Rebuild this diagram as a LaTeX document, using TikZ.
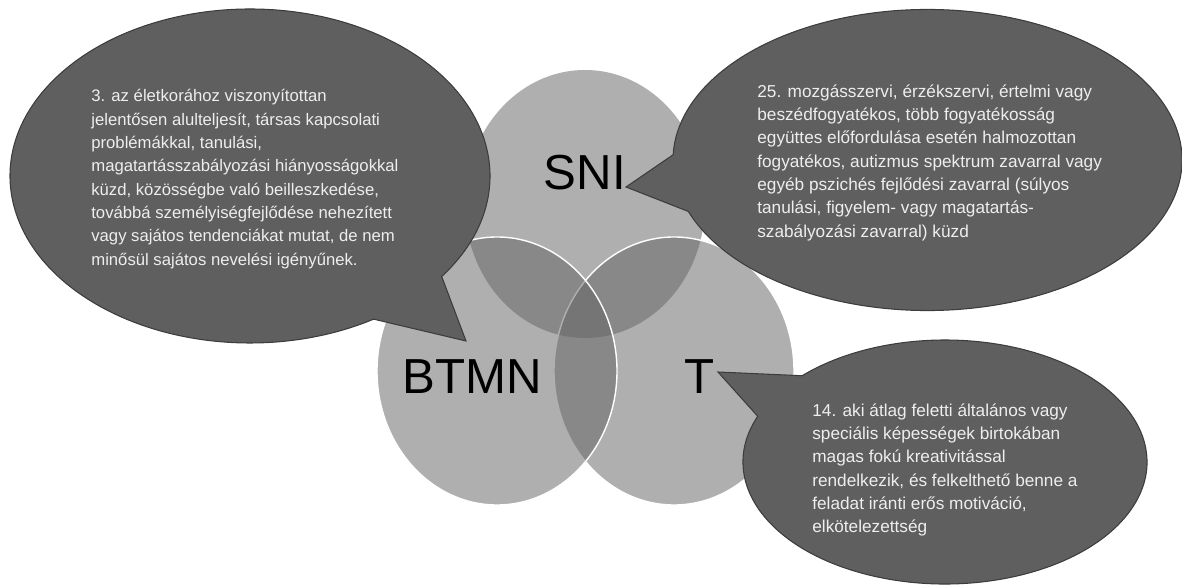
\documentclass[tikz,border=0pt]{standalone}
\usepackage{fontspec}
\setmainfont{Liberation Sans}
\usetikzlibrary{calc}

\definecolor{vennfill}{HTML}{636363}
\definecolor{bubblefill}{HTML}{5F5F5F}
\definecolor{bubbleline}{HTML}{3C3C3C}
\definecolor{bubbletxt}{HTML}{EEEEEE}

\tikzset{
  venn/.style={fill=vennfill, fill opacity=0.51},
  bubble/.style={fill=bubblefill, draw=bubbleline, line width=0.6pt},
  bubbletext/.style={anchor=north west, inner sep=0pt, align=left, text=bubbletxt,
    font=\fontsize{9.8}{13.3}\selectfont},
  setname/.style={inner sep=0pt, font=\fontsize{28}{30}\selectfont}
}

\begin{document}
\begin{tikzpicture}
        \useasboundingbox (0, 0) rectangle (23.64, 11.72);

        % the three sets
        \coordinate (sni) at (11.70, 7.64);
        \coordinate (btmn) at (9.94, 4.30);
        \coordinate (t) at (13.48, 4.30);
        \fill[venn] (sni) ellipse [x radius=2.40, y radius=2.68];
        \filldraw[venn, draw=white, line width=0.8pt] (t) ellipse [x radius=2.40, y radius=2.68];
        \filldraw[venn, draw=white, line width=0.8pt] (btmn) ellipse [x radius=2.40, y radius=2.68];

        \node[setname] (snilabel) at (11.70, 8.26) {SNI};
        \node[setname] (btmnlabel) at (9.44, 4.18) {BTMN};
        \node[setname] (tlabel) at (14.00, 4.18) {T};

        % callouts
        \coordinate (leftc) at (5.00, 8.20);
        \coordinate (lefttip) at (9.32, 4.90);
        \filldraw[bubble] (leftc) ++(-37:4.80 and 3.34)
            arc [start angle=-37, end angle=301, x radius=4.80, y radius=3.34] -- (lefttip) -- cycle;

        \coordinate (rightc) at (18.55, 8.52);
        \coordinate (righttip) at (12.52, 7.98);
        \filldraw[bubble] (rightc) ++(200:5.09 and 3.01)
            arc [start angle=200, end angle=538, x radius=5.09, y radius=3.01] -- (righttip) -- cycle;

        \coordinate (lowc) at (18.90, 2.48);
        \coordinate (lowtip) at (14.36, 4.28);
        \filldraw[bubble] (lowc) ++(158:4.04 and 2.44)
            arc [start angle=158, end angle=495, x radius=4.04, y radius=2.44] -- (lowtip) -- cycle;

        \node[bubbletext, font=\fontsize{9.5}{13.3}\selectfont] (btmntext) at (1.82, 9.94) {3. az életkorához viszonyítottan\\
            jelentősen alulteljesít, társas kapcsolati\\
            problémákkal, tanulási,\\
            magatartásszabályozási hiányosságokkal\\
            küzd, közösségbe való beilleszkedése,\\
            továbbá személyiségfejlődése nehezített\\
            vagy sajátos tendenciákat mutat, de nem\\
            minősül sajátos nevelési igényűnek.};

        \node[bubbletext] (snitext) at (15.14, 10.04) {25. mozgásszervi, érzékszervi, értelmi vagy\\
            beszédfogyatékos, több fogyatékosság\\
            együttes előfordulása esetén halmozottan\\
            fogyatékos, autizmus spektrum zavarral vagy\\
            egyéb pszichés fejlődési zavarral (súlyos\\
            tanulási, figyelem- vagy magatartás-\\
            szabályozási zavarral) küzd};

        \node[bubbletext] (ttext) at (16.24, 3.66) {14. aki átlag feletti általános vagy\\
            speciális képességek birtokában\\
            magas fokú kreativitással\\
            rendelkezik, és felkelthető benne a\\
            feladat iránti erős motiváció,\\
            elkötelezettség};
    \end{tikzpicture}
\end{document}
